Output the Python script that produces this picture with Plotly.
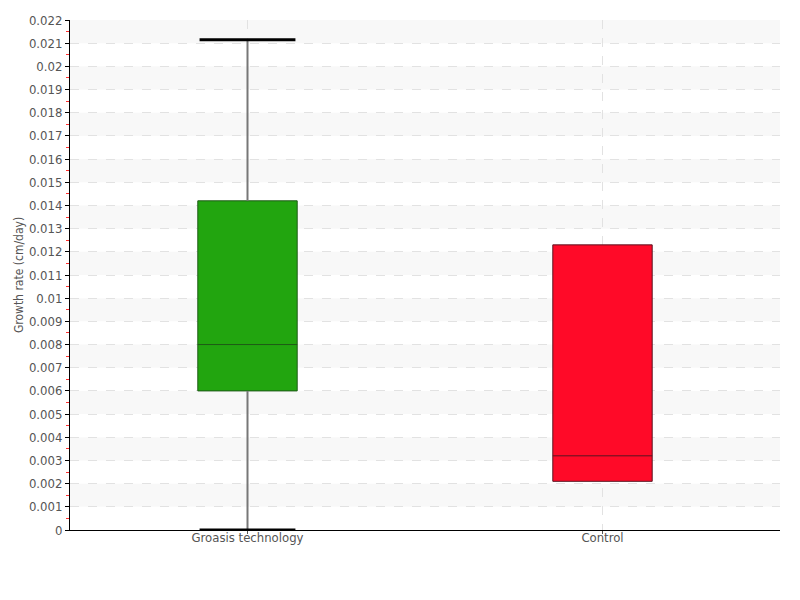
import plotly.graph_objects as go

categories = ["Groasis technology", "Control"]
lower_fence = [0.0, 0.0021]
q1 = [0.0060, 0.0021]
median = [0.0080, 0.0032]
q3 = [0.0142, 0.0123]
upper_fence = [0.02115, 0.0123]
has_whiskers = [True, False]
fill_colors = ["#22a50f", "#ff0a28"]
line_colors = ["#1f5a17", "#5a1420"]

y_ticks = [i / 1000 for i in range(0, 23)]
y_tick_labels = [f"{v:g}" for v in y_ticks]

FONT = "Liberation Sans Narrow, DejaVu Sans Condensed, sans-serif"
box_w = 0.28
cap_half = 0.135

fig = go.Figure()

for i, cat in enumerate(categories):
    if has_whiskers[i]:
        fig.add_trace(go.Scatter(
            x=[i, i], y=[lower_fence[i], q1[i]], mode="lines",
            line=dict(color="#777777", width=2), showlegend=False, hoverinfo="skip"))
        fig.add_trace(go.Scatter(
            x=[i, i], y=[q3[i], upper_fence[i]], mode="lines",
            line=dict(color="#777777", width=2), showlegend=False, hoverinfo="skip"))
        for yv in (lower_fence[i], upper_fence[i]):
            fig.add_trace(go.Scatter(
                x=[i - cap_half, i + cap_half], y=[yv, yv], mode="lines",
                line=dict(color="#000000", width=3), showlegend=False, hoverinfo="skip"))
    fig.add_trace(go.Box(
        x=[i], q1=[q1[i]], median=[median[i]], q3=[q3[i]],
        lowerfence=[q1[i]], upperfence=[q3[i]],
        width=box_w, fillcolor=fill_colors[i],
        line=dict(color=line_colors[i], width=1),
        whiskerwidth=0, showlegend=False, name=cat))

shapes = []
for k in range(1, len(y_ticks) - 1, 2):
    shapes.append(dict(type="rect", xref="paper", yref="y", x0=0, x1=1,
                       y0=y_ticks[k], y1=y_ticks[k + 1],
                       fillcolor="#f8f8f8", line=dict(width=0), layer="below"))

fig.update_layout(
    width=800, height=600,
    margin=dict(l=62, r=28, t=12, b=78),
    paper_bgcolor="white", plot_bgcolor="white",
    font=dict(family=FONT, size=13, color="#555555"),
    shapes=shapes,
    showlegend=False,
)
fig.update_xaxes(
    range=[-0.5, 1.5], tickmode="array", tickvals=list(range(len(categories))),
    ticktext=categories, showline=True, linecolor="#000000", linewidth=1,
    ticks="outside", ticklen=3, tickcolor="#555555", automargin=False,
    ticklabelstandoff=-8,
    showgrid=True, gridcolor="#e2e2e2", griddash="dash", zeroline=False,
    tickfont=dict(size=13, color="#555555"),
)
fig.update_yaxes(
    range=[0, 0.022], tickmode="array", tickvals=y_ticks, ticktext=y_tick_labels,
    showline=True, linecolor="#000000", linewidth=1, automargin=False,
    ticks="outside", ticklen=4, tickcolor="#000000",
    minor=dict(ticks="outside", ticklen=3, tickcolor="#ff3030", dtick=0.0005, showgrid=False),
    showgrid=True, gridcolor="#e2e2e2", griddash="dash", zeroline=False,
    tickfont=dict(size=13, color="#555555"),
    title=dict(text="Growth rate (cm/day)", font=dict(size=12, color="#555555"), standoff=2),
)

fig.write_html("out.html")
